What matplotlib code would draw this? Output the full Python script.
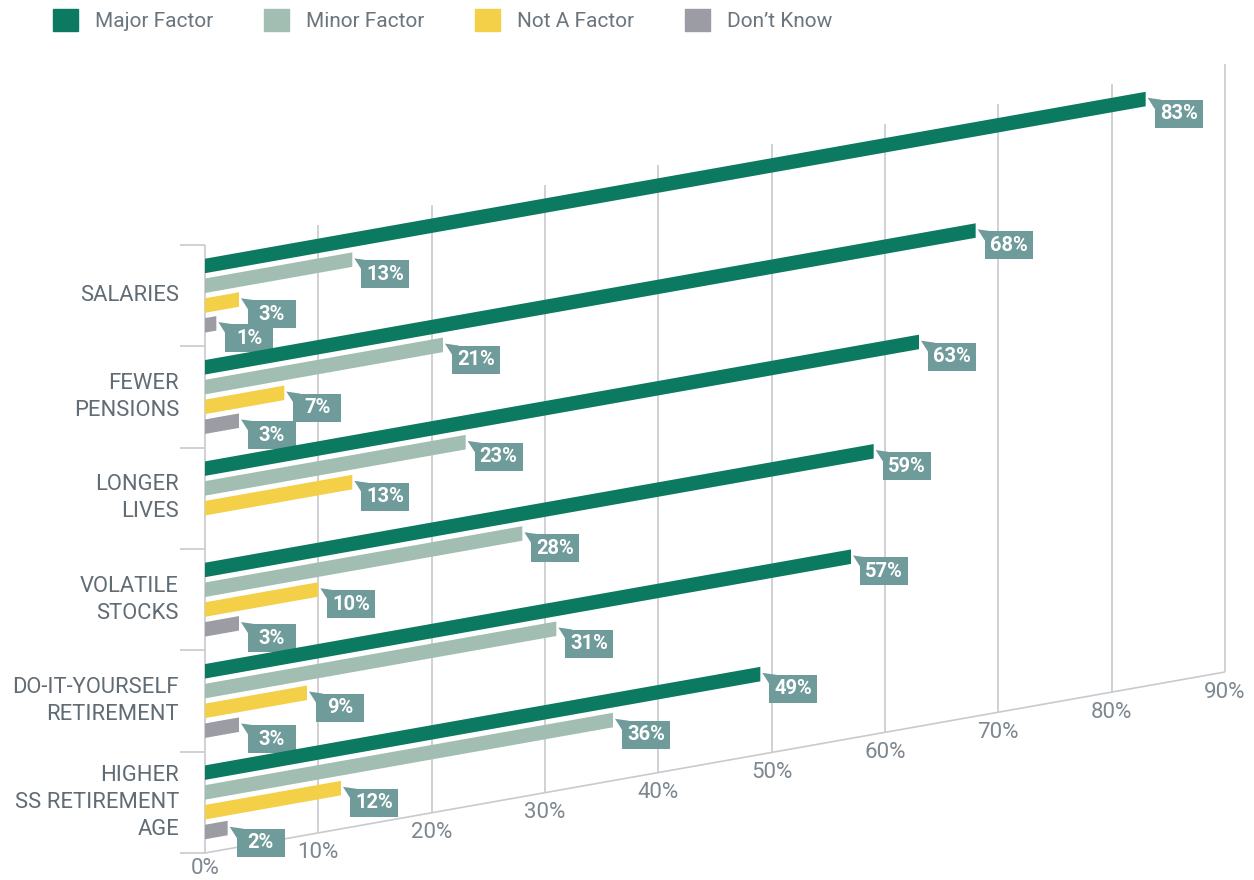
import numpy as np
import matplotlib
matplotlib.use("Agg")
import matplotlib.pyplot as plt
import matplotlib.patches as mpatches
from matplotlib.patches import Rectangle, Polygon
from matplotlib.transforms import Affine2D, IdentityTransform, offset_copy

plt.rcParams["font.family"] = ["Roboto", "DejaVu Sans"]

categories = ["SALARIES", "FEWER\nPENSIONS", "LONGER\nLIVES", "VOLATILE\nSTOCKS",
              "DO-IT-YOURSELF\nRETIREMENT", "HIGHER\nSS RETIREMENT\nAGE"]
series = ["Major Factor", "Minor Factor", "Not A Factor", "Don\u2019t Know"]
major = [83, 68, 63, 59, 57, 49]
minor = [13, 21, 23, 28, 31, 36]
not_factor = [3, 7, 13, 10, 9, 12]
dont_know = [1, 3, None, 3, 3, 2]
ticks = list(range(0, 100, 10))

colors = ["#0b7a60", "#a2bdb1", "#f4cf48", "#9b9ca4"]
CALLOUT = "#6f9b9b"
GRID_C = "#c9cace"
TEXT_C = "#616c75"
TICK_C = "#7d878f"

W, H = 1254, 880
X0 = 205                 # pixel column of the 0% axis
PX = 1020 / 90           # pixels per percentage point
RISE = 181 / 90          # upward shear in pixel rows per percentage point
TOP, BASE = 245, 853     # top of grid / baseline (pixel rows at 0%)
STEP = (BASE - TOP) / len(categories)
BAR_H, BAR_PITCH = 14.5, 19.8

fig = plt.figure(figsize=(W / 100, H / 100), dpi=100)
ax = fig.add_axes([0, 0, 1, 1])
ax.axis("off")
ax.set_xlim(-X0 / PX, (W - X0) / PX)
ax.set_ylim(H, 0)

# shear: moving right by x percent lifts everything by RISE * x rows
skew = Affine2D(np.array([[1, 0, 0], [-RISE, 1, 0], [0, 0, 1]])) + ax.transData

# grid, baseline and left ticks
ax.vlines(ticks, TOP, BASE, color=GRID_C, lw=1.2, transform=skew, zorder=1)
ax.hlines(BASE, 0, ticks[-1], color=GRID_C, lw=1.2, transform=skew, zorder=1)
bounds = TOP + STEP * np.arange(len(categories) + 1)
ax.hlines(bounds, -25 / PX, 0, color=GRID_C, lw=1.2, zorder=1)

for t in ticks:
    dy = -15 if t == 0 else -20   # 0% sits tight against the bottom edge
    ax.text(t, BASE, f"{t}%", transform=offset_copy(skew, fig=fig, y=dy, units="dots"),
            ha="center", va="center", fontsize=16, color=TICK_C)

ident = IdentityTransform()


def callout(v, top, z):
    # speech-bubble label hanging off the right end of a bar
    px, py = skew.transform((v, top))
    bx, btop = px + 9, py - 8
    bw, bh = 48, 28
    ax.add_patch(Polygon([(px + 2, py - 6), (bx + 7, btop), (bx, btop - 9)],
                         closed=True, facecolor=CALLOUT, edgecolor="none",
                         transform=ident, zorder=z))
    ax.add_patch(Rectangle((bx, btop - bh), bw, bh, facecolor=CALLOUT,
                           edgecolor="none", transform=ident, zorder=z))
    ax.text(bx + bw / 2, btop - bh / 2, f"{v}%", transform=ident, ha="center",
            va="center", color="white", fontsize=14.5, fontweight="bold", zorder=z + 0.1)


values = list(zip(major, minor, not_factor, dont_know))
for i, (label, vals) in enumerate(zip(categories, values)):
    center = TOP + STEP * (i + 0.5)
    ax.text(-26 / PX, center, label, ha="right", va="center", fontsize=15.8,
            color=TEXT_C, linespacing=1.36)
    group_top = center - (BAR_H + 3 * BAR_PITCH) / 2
    for j, v in enumerate(vals):
        if v is None:
            continue
        top = group_top + j * BAR_PITCH
        bars = ax.barh(top + BAR_H / 2, v, height=BAR_H, left=0, color=colors[j],
                       zorder=2 + i)
        for b in bars:
            b.set_transform(skew)
        callout(v, top, 2.5 + i)

ax.set_xlim(-X0 / PX, (W - X0) / PX)
ax.set_ylim(H, 0)

handles = [mpatches.Patch(color=c, label=s) for c, s in zip(colors, series)]
fig.legend(handles=handles, loc="upper left", bbox_to_anchor=(53 / W, 1 - 9 / H),
           ncol=4, frameon=False, fontsize=15, labelcolor="#6b757d",
           handlelength=1.2, handleheight=1.25, handletextpad=0.8,
           columnspacing=2.45, borderpad=0, borderaxespad=0)

fig.savefig("out.png", dpi=100)
